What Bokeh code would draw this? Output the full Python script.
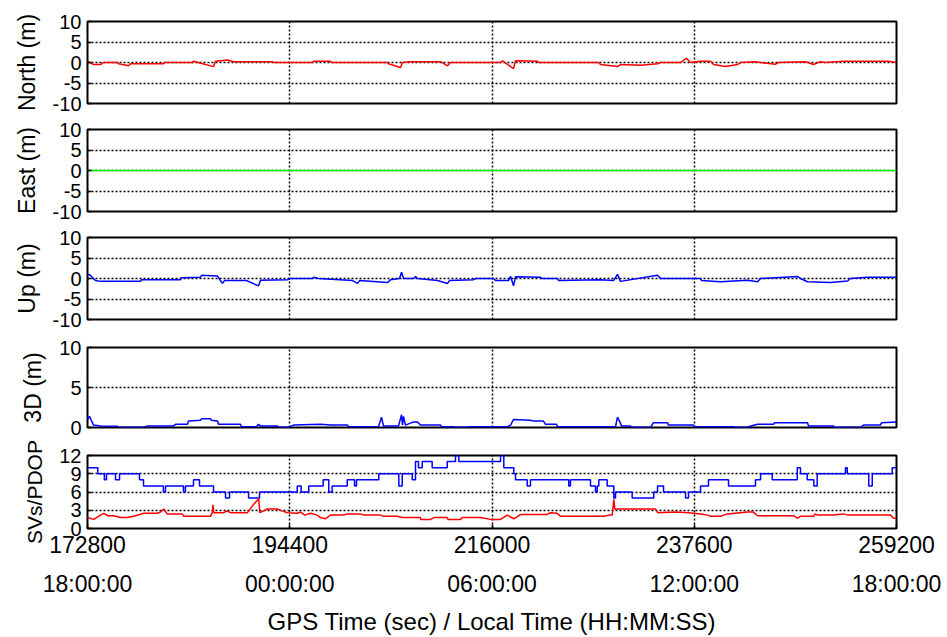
from bokeh.plotting import figure
from bokeh.layouts import column
from bokeh.models import Range1d, LinearAxis, FixedTicker
from bokeh.embed import file_html
from bokeh.resources import INLINE

# ---- time axis (GPS seconds of week) ----
gps_ticks = [172800, 194400, 216000, 237600, 259200]
local_ticks = ["18:00:00", "00:00:00", "06:00:00", "12:00:00", "18:00:00"]

# ---- position error, North (m) ----
north_t = [172800, 173440, 174190, 174510, 176000, 176110, 177180, 177390, 180920, 181020,
           184010, 184120, 186260, 186470, 187750, 188390, 192560, 192670, 196830, 196940,
           198750, 198860, 204840, 204950, 206230, 206440, 207300, 210500, 211250, 211570,
           216910, 217120, 218300, 218510, 220860, 220970, 227380, 227590, 229400, 229720,
           231860, 233680, 234000, 236130, 236770, 237200, 238270, 239340, 239660, 240940,
           242220, 242540, 244140, 244680, 246280, 246600, 249480, 250340, 251080, 251620,
           253540, 258350, 259200]
north_m = [0.3, -0.5, -0.5, 0.0, 0.0, -0.3, -0.8, -0.3, -0.3, 0.0,
           0.0, 0.3, -1.0, 0.3, 0.6, 0.2, 0.2, 0.0, 0.0, 0.3,
           0.3, 0.0, 0.0, -0.3, -1.2, 0.0, 0.2, 0.2, -0.8, 0.0,
           0.0, 0.4, -1.5, 0.4, 0.3, 0.0, 0.0, -0.5, -1.0, -0.5,
           -0.7, -0.3, 0.0, 0.0, 1.0, 0.0, 0.3, 0.3, -0.5, -1.0,
           -0.5, 0.0, 0.2, 0.0, -0.4, 0.0, 0.2, -0.5, 0.2, 0.0,
           0.3, 0.3, 0.0]

# ---- position error, East (m) ----
east_t = [172800, 259200]
east_m = [0.0, 0.0]

# ---- position error, Up (m) ----
up_t = [172800, 173010, 173650, 174190, 178460, 178570, 182730, 182840, 184870, 184980,
        186680, 187000, 187220, 187430, 189780, 191060, 191280, 194160, 194480, 196830,
        196940, 197470, 201100, 201640, 201850, 204840, 205160, 206120, 206340, 206550,
        207620, 207830, 208040, 210180, 211250, 211460, 214030, 214240, 216160, 216370,
        217760, 217980, 218300, 218510, 221180, 221290, 223000, 223100, 227590, 228980,
        229400, 229720, 233680, 234000, 238270, 238380, 240400, 243290, 244360, 244680,
        248630, 248950, 249700, 252150, 253970, 254290, 256100, 259200]
up_m = [0.9, 1.0, -0.5, -0.7, -0.7, -0.3, -0.3, 0.2, 0.3, 0.8,
        0.6, -0.5, -1.2, -0.5, -0.5, -1.8, -0.4, -0.3, 0.0, 0.0,
        0.3, 0.0, -0.5, -1.2, -0.5, -1.0, -0.3, 0.0, 1.5, 0.0,
        0.0, 0.5, 0.0, -0.5, -1.2, -0.5, -0.3, 0.0, 0.0, -0.5,
        -0.5, 0.5, -1.8, 0.4, 0.3, 0.0, 0.0, -0.5, -0.3, -0.5,
        1.0, -0.7, 0.8, 0.0, 0.0, -0.5, -0.8, -0.4, -0.8, 0.0,
        0.5, 0.0, -0.8, -1.0, -0.6, 0.0, 0.3, 0.3]

# ---- 3D position error (m) ----
err3d_t = [172800, 173010, 173440, 174190, 176000, 176110, 178780, 179210, 181990, 182200,
           183480, 183590, 184870, 184980, 185940, 186040, 186680, 186790, 189140, 189250,
           190850, 191060, 191280, 193090, 193200, 194270, 194800, 197680, 198750, 200570,
           200680, 203880, 204200, 204410, 206020, 206340, 206440, 206550, 206760, 207620,
           208040, 208360, 210500, 210610, 211890, 212000, 213380, 213490, 217660, 217980,
           218300, 220110, 220430, 221500, 221710, 222890, 223000, 229190, 229400, 229620,
           229830, 230790, 230900, 232930, 233250, 234740, 234850, 237520, 237630, 241790,
           241900, 243180, 244360, 246070, 246170, 249700, 249800, 252470, 252580, 255360,
           255680, 257490, 257600, 259200]
err3d_m = [1.0, 1.4, 0.3, 0.2, 0.15, 0.02, 0.02, 0.2, 0.2, 0.4,
           0.4, 0.8, 0.9, 1.1, 1.1, 0.9, 0.8, 0.4, 0.4, 0.1,
           0.1, 0.4, 0.2, 0.2, 0.02, 0.02, 0.3, 0.4, 0.3, 0.3,
           0.1, 0.1, 1.3, 0.2, 0.2, 1.6, 0.3, 1.4, 0.3, 0.7,
           0.7, 0.3, 0.3, 0.1, 0.1, 0.02, 0.02, 0.1, 0.1, 0.3,
           1.0, 0.9, 0.8, 0.8, 0.4, 0.4, 0.1, 0.1, 1.3, 0.8,
           0.2, 0.2, 0.02, 0.02, 0.6, 0.6, 0.3, 0.3, 0.1, 0.1,
           0.02, 0.02, 0.4, 0.4, 0.6, 0.6, 0.2, 0.2, 0.02, 0.02,
           0.3, 0.3, 0.6, 0.7]

# ---- satellites in view (changes only) ----
sv_t = [172800, 173900, 174600, 174830, 175790, 176220, 178350, 178780, 180900, 181130,
        183050, 183260, 184120, 184760, 186260, 187540, 187970, 190000, 191170, 195200,
        195620, 196430, 197970, 198570, 198930, 200540, 201320, 201530, 203910, 206050,
        206410, 207480, 207830, 208150, 208550, 209610, 211220, 212100, 212460, 216910,
        217260, 218330, 218510, 219760, 220110, 224200, 224380, 226520, 227050, 227240,
        227410, 228300, 229010, 229190, 230970, 233280, 233680, 234320, 236670, 236990,
        238270, 239120, 241260, 244140, 244680, 245930, 248600, 248950, 249660, 250370,
        250730, 253750, 253940, 256240, 256610, 258740, 259200]
sv_n = [10, 9, 8, 9, 8, 9, 8, 7, 6, 7,
        6, 7, 8, 7, 6, 5, 6, 5, 6, 7,
        6, 7, 8, 6, 7, 8, 7, 8, 9, 7,
        9, 8, 11, 10, 11, 10, 11, 12, 11, 12,
        10, 9, 8, 7, 8, 7, 8, 7, 6, 7,
        8, 7, 5, 6, 5, 6, 7, 6, 5, 6,
        7, 8, 7, 8, 9, 8, 10, 9, 8, 7,
        9, 10, 9, 7, 9, 10, 10]

# ---- PDOP ----
pdop_t = [172800, 173470, 174190, 174540, 175000, 175610, 176320, 177040, 177750, 178810,
          180240, 180600, 180950, 181310, 182910, 183090, 185940, 186120, 186200, 186290,
          187360, 187720, 188070, 189860, 190030, 190560, 191090, 191200, 191630, 191990,
          193060, 193590, 194130, 195200, 195550, 196000, 196620, 197330, 197680, 198220,
          198750, 200170, 200540, 201960, 202310, 204090, 204440, 205880, 206410, 206940,
          208360, 208400, 209430, 209790, 211220, 211300, 212640, 212820, 214770, 215840,
          216910, 217620, 218330, 219040, 221900, 222250, 222960, 223320, 227940, 228480,
          228840, 229010, 229120, 231860, 233460, 233700, 235600, 237000, 238270, 239020,
          239340, 240400, 241150, 243290, 243930, 244360, 248200, 248630, 248950, 250340,
          250500, 250760, 252470, 253540, 253970, 258560, 258880, 259200]
pdop = [1.8, 1.5, 2.2, 2.5, 2.1, 2.1, 1.8, 1.8, 2.0, 2.5,
        2.5, 2.7, 3.2, 2.4, 2.4, 2.0, 2.0, 2.6, 3.9, 2.6,
        2.6, 2.9, 2.6, 2.6, 2.9, 4.0, 4.9, 2.6, 2.9, 3.2,
        3.2, 2.9, 2.6, 2.5, 2.7, 2.2, 2.5, 2.2, 1.8, 1.6,
        2.2, 2.2, 2.4, 2.4, 2.2, 2.2, 2.0, 2.0, 1.8, 1.8,
        1.8, 1.5, 1.5, 1.8, 1.8, 1.5, 1.5, 1.8, 1.8, 1.5,
        1.5, 2.2, 1.6, 2.3, 2.3, 2.6, 2.5, 2.0, 2.0, 2.2,
        2.2, 4.8, 3.2, 3.2, 3.2, 2.6, 2.7, 2.6, 2.4, 2.2,
        2.0, 2.0, 2.4, 2.7, 2.7, 2.1, 2.1, 1.7, 2.0, 2.0,
        2.4, 2.2, 2.2, 2.4, 2.2, 2.2, 1.7, 1.7]

FONT = "Liberation Sans"
x_range = Range1d(gps_ticks[0], gps_ticks[-1])


def inner_ticks(axis, ticks):
    axis.ticker = FixedTicker(ticks=ticks)
    axis.major_tick_in = 4
    axis.major_tick_out = 0
    axis.major_tick_line_color = "black"
    axis.major_tick_line_width = 1.5
    axis.minor_tick_line_color = None
    axis.axis_line_color = None


def panel(ylabel, ylo, yhi, yticks, ygrid, height, top, bottom, label_size="23px"):
    p = figure(width=947, height=height, x_range=x_range, y_range=Range1d(ylo, yhi),
               output_backend="svg", toolbar_location=None,
               min_border_left=87, min_border_right=51,
               min_border_top=top, min_border_bottom=bottom)
    p.outline_line_color = "black"
    p.outline_line_width = 2
    p.background_fill_color = "white"
    p.border_fill_color = "white"

    yax = p.left[0]
    inner_ticks(yax, yticks)
    yax.major_label_overrides = {v: str(v) for v in yticks}
    yax.axis_label = ylabel
    yax.axis_label_text_font = FONT
    yax.axis_label_text_font_size = label_size
    yax.axis_label_text_font_style = "normal"
    yax.axis_label_text_color = "black"
    yax.axis_label_standoff = 10
    yax.major_label_text_font = FONT
    yax.major_label_text_font_size = "20px"
    yax.major_label_text_color = "black"
    yax.major_label_standoff = 6

    p.xgrid.ticker = FixedTicker(ticks=gps_ticks[1:-1])
    p.ygrid.ticker = FixedTicker(ticks=ygrid)
    for g in (p.xgrid, p.ygrid):
        g.grid_line_color = "black"
        g.grid_line_dash = "2 2"
        g.grid_line_width = 1.5
        g.grid_line_alpha = 1.0
    return p


ENU_TICKS = [-10, -5, 0, 5, 10]

# North / East / Up / 3D panels share the time axis without labels
p_n = panel("North (m)", -10, 10, ENU_TICKS, [-5, 0, 5], 116, 21, 13)
p_e = panel("East (m)", -10, 10, ENU_TICKS, [-5, 0, 5], 108, 13, 13)
p_u = panel("Up (m)", -10, 10, ENU_TICKS, [-5, 0, 5], 108, 13, 13)
p_3 = panel("3D (m)", 0, 10, [0, 5, 10], [5], 108, 15, 13)
for p in (p_n, p_e, p_u, p_3):
    p.below[0].visible = False

p_n.line(north_t, north_m, line_color="#ff0000", line_width=1.5)
p_e.line(east_t, east_m, line_color="#00ff00", line_width=1.5)
p_u.line(up_t, up_m, line_color="#0000ff", line_width=1.5)
p_3.line(err3d_t, err3d_m, line_color="#0000ff", line_width=1.5)

# Satellites and PDOP with the labelled time axis
p_s = panel("SVs/PDOP", 0, 12, [0, 3, 6, 9, 12], [3, 6, 9], 197, 15, 100, label_size="21px")
p_s.step(sv_t, sv_n, mode="after", line_color="#0000ff", line_width=1.5)
p_s.line(pdop_t, pdop, line_color="#ff0000", line_width=1.5)

gx = p_s.below[0]
inner_ticks(gx, gps_ticks)
gx.major_label_overrides = {t: str(t) for t in gps_ticks}
gx.major_label_text_font = FONT
gx.major_label_text_font_size = "23px"
gx.major_label_text_color = "black"
gx.major_label_standoff = 7

lx = LinearAxis()
lx.ticker = FixedTicker(ticks=gps_ticks)
lx.major_label_overrides = {t: s for t, s in zip(gps_ticks, local_ticks)}
lx.major_label_text_font = FONT
lx.major_label_text_font_size = "23px"
lx.major_label_text_color = "black"
lx.major_label_standoff = 9
lx.major_tick_line_color = None
lx.minor_tick_line_color = None
lx.axis_line_color = None
lx.axis_label = "GPS Time (sec) / Local Time (HH:MM:SS)"
lx.axis_label_text_font = FONT
lx.axis_label_text_font_size = "24px"
lx.axis_label_text_font_style = "normal"
lx.axis_label_text_color = "black"
lx.axis_label_standoff = 8
p_s.add_layout(lx, "below")

layout = column(p_n, p_e, p_u, p_3, p_s, spacing=0)
open("out.html", "w").write(file_html(layout, INLINE))
